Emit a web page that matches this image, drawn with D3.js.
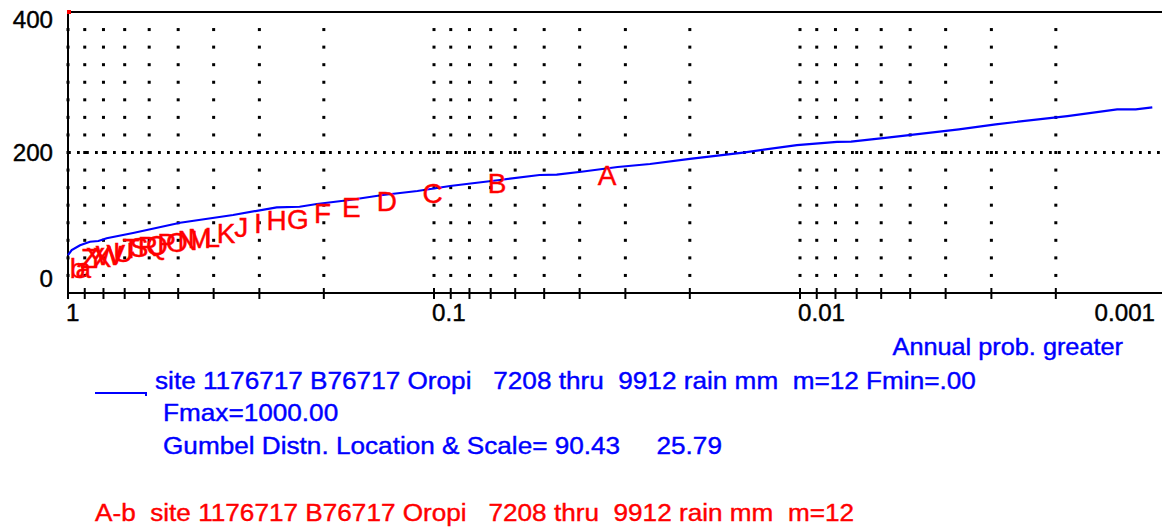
<!DOCTYPE html>
<html>
<head>
<meta charset="utf-8">
<script src="https://cdn.jsdelivr.net/npm/d3@7"></script>
<style>
  html, body { margin: 0; padding: 0; background: #fff; }
  svg { display: block; }
  text { font-family: "Liberation Sans", Arial, sans-serif; white-space: pre; stroke-width: 0.4px; }
</style>
</head>
<body>
<svg id="chart" width="1162" height="527"></svg>
<script>
// Fitted Gumbel curve: annual exceedance probability vs rainfall (mm)
const curveProb = [1.0, 0.977, 0.927, 0.871, 0.826, 0.784, 0.664, 0.494, 0.354, 0.269, 0.233,
  0.209, 0.170, 0.138, 0.111, 0.0904, 0.0815, 0.0661, 0.0515, 0.0462, 0.0391,
  0.0315, 0.0257, 0.0200, 0.0143, 0.0102, 0.00792, 0.00725, 0.00577, 0.00368, 0.00292,
  0.00186, 0.00136, 0.00121, 0.00109];
const curveValue = [54, 61, 68, 73, 74, 78, 85.4, 100, 111, 122, 122.8,
  126.7, 132.4, 139.5, 145.2, 152.3, 155.2, 160.9, 168, 168.5, 173,
  179.4, 183.6, 190.8, 199.9, 210.4, 215.2, 215.4, 221.1, 233.0, 240.1,
  251.9, 261.5, 261.5, 264.3];

// Ranked annual maxima, plotted with their letter codes
const pointLabels = ["A","B","C","D","E","F","G","H","I","J","K","L","M","N","O","P","Q","R","S","T","U","V","W","X","Y","Z","a","b"];
const pointProb = [0.0345, 0.0690, 0.1034, 0.1379, 0.1724, 0.2069, 0.2414, 0.2759, 0.3103, 0.3448,
  0.3793, 0.4138, 0.4483, 0.4828, 0.5172, 0.5517, 0.5862, 0.6207, 0.6552, 0.6897, 0.7241,
  0.7586, 0.7931, 0.8276, 0.8621, 0.8966, 0.9310, 0.9655];
const pointValue = [168, 157, 142, 131, 122, 114, 106, 104.6, 100, 94, 85, 80, 78, 75, 73, 71,
  68, 67, 65, 64, 58, 56, 54, 51, 51, 50, 35.6, 35.6];

// Axis labels
const xLabelValues = [1, 0.1, 0.01, 0.001];
const xLabelText = ["1", "0.1", "0.01", "0.001"];
const yLabelValues = [400, 200, 0];
const yLabelText = ["400", "200", "0"];
const xTitle = "Annual prob. greater";

// Legend lines
const legendBlue = [
  "site 1176717 B76717 Oropi   7208 thru  9912 rain mm  m=12 Fmin=.00",
  "Fmax=1000.00",
  "Gumbel Distn. Location & Scale= 90.43     25.79"
];
const legendRed = "A-b  site 1176717 B76717 Oropi   7208 thru  9912 rain mm  m=12";

const BLUE = "#0000ff", RED = "#ff0000";

const svg = d3.select("#chart");

const x = d3.scaleLog().domain([1, 0.001]).range([68, 1166]);
const y = d3.scaleLinear().domain([0, 400]).range([293, 12]);

// minor/major tick values on the probability axis
const xTicks = [];
[1, 0.1, 0.01].forEach(dec => {
  for (let k = 10; k >= 1; k--) {
    const v = +(dec * k / 10).toPrecision(3);
    if (!xTicks.includes(v)) xTicks.push(v);
  }
});

// text whose glyphs are widened horizontally by sx
function stretched(g, px, py, str, opts) {
  const c = opts.fill || "#000";
  return g.append("text")
    .attr("transform", `translate(${px},${py}) scale(${opts.sx},1)`)
    .attr("font-size", opts.size)
    .attr("fill", c).attr("stroke", c)
    .attr("text-anchor", opts.anchor || "start")
    .text(str);
}

// dotted vertical grid (dots every 25 mm)
const gridVals = d3.range(25, 400, 25);
const grid = svg.append("g");
xTicks.forEach(tv => {
  gridVals.forEach(gv => {
    grid.append("rect")
      .attr("x", x(tv) - 1.5).attr("y", y(gv) - 1.5)
      .attr("width", 3).attr("height", 3)
      .attr("fill", "#000");
  });
});

// dotted horizontal line at 200
svg.append("line")
  .attr("x1", x(1)).attr("x2", x(0.001))
  .attr("y1", y(200)).attr("y2", y(200))
  .attr("stroke", "#000").attr("stroke-width", 2.8)
  .attr("stroke-dasharray", "2.8,6.2");

// axes frame
svg.append("line").attr("x1", x(1)).attr("x2", x(1)).attr("y1", y(400)).attr("y2", y(0) + 6)
  .attr("stroke", "#000").attr("stroke-width", 2);
svg.append("line").attr("x1", x(1)).attr("x2", 1162).attr("y1", y(400)).attr("y2", y(400))
  .attr("stroke", "#000").attr("stroke-width", 2);
svg.append("line").attr("x1", x(1)).attr("x2", 1162).attr("y1", y(0)).attr("y2", y(0))
  .attr("stroke", "#000").attr("stroke-width", 2);

// x ticks
const tickG = svg.append("g");
xTicks.filter(v => v !== 1).forEach(tv => {
  tickG.append("line")
    .attr("x1", x(tv)).attr("x2", x(tv))
    .attr("y1", y(0) - 5).attr("y2", y(0) + 6)
    .attr("stroke", "#000").attr("stroke-width", 2);
});

// x labels
xLabelValues.forEach((v, i) => {
  const last = i === xLabelValues.length - 1;
  const px = last ? 1155 : x(v) - 2;
  stretched(svg, px, 321, xLabelText[i], { size: 23, sx: 1.05, anchor: last ? "end" : "start" });
});

// y labels
const yLabelPos = [28, 161, 287];
yLabelValues.forEach((v, i) => {
  stretched(svg, 53, yLabelPos[i], yLabelText[i], { size: 23, sx: 1.05, anchor: "end" });
});

// axis title
stretched(svg, 1123, 355, xTitle, { size: 23, sx: 1.1, anchor: "end", fill: BLUE });

// fitted curve
const line = d3.line().x((d, i) => x(curveProb[i])).y((d, i) => y(curveValue[i]));
svg.append("path")
  .attr("d", line(curveValue))
  .attr("fill", "none").attr("stroke", BLUE).attr("stroke-width", 2.2);

// letter-coded data points
const pts = svg.append("g");
pointLabels.forEach((lab, i) => {
  pts.append("text")
    .attr("x", x(pointProb[i]) + 4)
    .attr("y", y(pointValue[i]) + 10)
    .attr("font-size", 28)
    .attr("text-anchor", "middle")
    .attr("fill", RED).attr("stroke", RED)
    .text(lab);
});
// corner marker of the plotted series
svg.append("rect").attr("x", x(1) - 1).attr("y", y(400) - 2).attr("width", 4).attr("height", 4).attr("fill", RED);

// legend
svg.append("path")
  .attr("d", `M95,393 H146 V396`)
  .attr("fill", "none").attr("stroke", BLUE).attr("stroke-width", 2);
stretched(svg, 155, 389, legendBlue[0], { size: 24, sx: 1.09, fill: BLUE });
stretched(svg, 163, 421, legendBlue[1], { size: 24, sx: 1.09, fill: BLUE });
stretched(svg, 163, 454, legendBlue[2], { size: 24, sx: 1.09, fill: BLUE });
stretched(svg, 95, 521, legendRed, { size: 24, sx: 1.09, fill: RED });
</script>
</body>
</html>
